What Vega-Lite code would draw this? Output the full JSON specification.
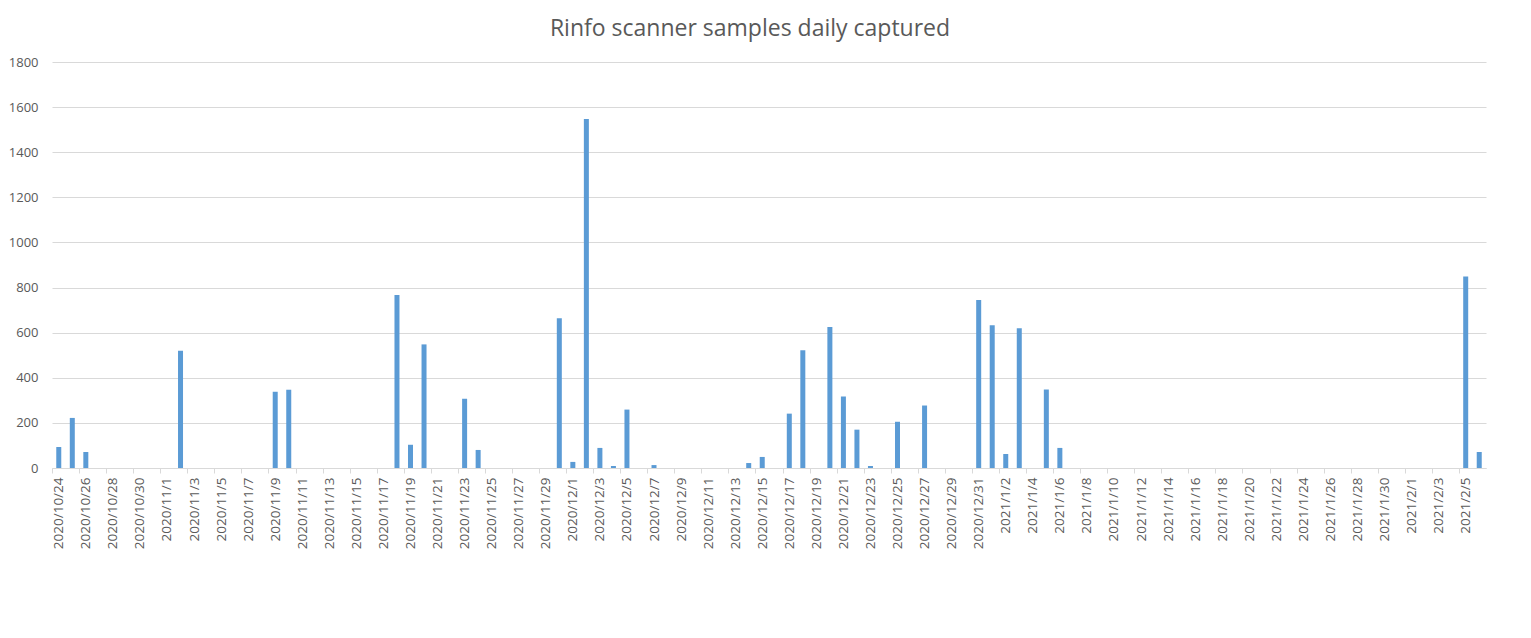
{
  "$schema": "https://vega.github.io/schema/vega-lite/v6.json",
  "autosize": {"type": "none"},
  "padding": {"left": 52, "top": 62, "right": 45, "bottom": 170},
  "width": 1434,
  "height": 406,
  "background": "#ffffff",
  "config": {
    "view": {"stroke": null},
    "font": "Open Sans"
  },
  "title": {
    "text": "Rinfo scanner samples daily captured",
    "font": "Open Sans",
    "fontSize": 23,
    "fontWeight": "normal",
    "color": "#595959",
    "anchor": "middle",
    "baseline": "alphabetic",
    "offset": -3,
    "dx": -19
  },
  "data": {
    "values": [
      {"date": "2020/10/24", "samples": 93},
      {"date": "2020/10/25", "samples": 222},
      {"date": "2020/10/26", "samples": 71},
      {"date": "2020/10/27", "samples": 0},
      {"date": "2020/10/28", "samples": 0},
      {"date": "2020/10/29", "samples": 0},
      {"date": "2020/10/30", "samples": 0},
      {"date": "2020/10/31", "samples": 0},
      {"date": "2020/11/1", "samples": 0},
      {"date": "2020/11/2", "samples": 520},
      {"date": "2020/11/3", "samples": 0},
      {"date": "2020/11/4", "samples": 0},
      {"date": "2020/11/5", "samples": 0},
      {"date": "2020/11/6", "samples": 0},
      {"date": "2020/11/7", "samples": 0},
      {"date": "2020/11/8", "samples": 0},
      {"date": "2020/11/9", "samples": 338},
      {"date": "2020/11/10", "samples": 347},
      {"date": "2020/11/11", "samples": 0},
      {"date": "2020/11/12", "samples": 0},
      {"date": "2020/11/13", "samples": 0},
      {"date": "2020/11/14", "samples": 0},
      {"date": "2020/11/15", "samples": 0},
      {"date": "2020/11/16", "samples": 0},
      {"date": "2020/11/17", "samples": 0},
      {"date": "2020/11/18", "samples": 767},
      {"date": "2020/11/19", "samples": 103},
      {"date": "2020/11/20", "samples": 548},
      {"date": "2020/11/21", "samples": 0},
      {"date": "2020/11/22", "samples": 0},
      {"date": "2020/11/23", "samples": 307},
      {"date": "2020/11/24", "samples": 80},
      {"date": "2020/11/25", "samples": 0},
      {"date": "2020/11/26", "samples": 0},
      {"date": "2020/11/27", "samples": 0},
      {"date": "2020/11/28", "samples": 0},
      {"date": "2020/11/29", "samples": 0},
      {"date": "2020/11/30", "samples": 664},
      {"date": "2020/12/1", "samples": 27},
      {"date": "2020/12/2", "samples": 1547},
      {"date": "2020/12/3", "samples": 89},
      {"date": "2020/12/4", "samples": 9},
      {"date": "2020/12/5", "samples": 259},
      {"date": "2020/12/6", "samples": 0},
      {"date": "2020/12/7", "samples": 13},
      {"date": "2020/12/8", "samples": 0},
      {"date": "2020/12/9", "samples": 0},
      {"date": "2020/12/10", "samples": 0},
      {"date": "2020/12/11", "samples": 0},
      {"date": "2020/12/12", "samples": 0},
      {"date": "2020/12/13", "samples": 0},
      {"date": "2020/12/14", "samples": 22},
      {"date": "2020/12/15", "samples": 49},
      {"date": "2020/12/16", "samples": 0},
      {"date": "2020/12/17", "samples": 241},
      {"date": "2020/12/18", "samples": 522},
      {"date": "2020/12/19", "samples": 0},
      {"date": "2020/12/20", "samples": 625},
      {"date": "2020/12/21", "samples": 317},
      {"date": "2020/12/22", "samples": 170},
      {"date": "2020/12/23", "samples": 9},
      {"date": "2020/12/24", "samples": 0},
      {"date": "2020/12/25", "samples": 205},
      {"date": "2020/12/26", "samples": 0},
      {"date": "2020/12/27", "samples": 277},
      {"date": "2020/12/28", "samples": 0},
      {"date": "2020/12/29", "samples": 0},
      {"date": "2020/12/30", "samples": 0},
      {"date": "2020/12/31", "samples": 745},
      {"date": "2021/1/1", "samples": 633},
      {"date": "2021/1/2", "samples": 62},
      {"date": "2021/1/3", "samples": 620},
      {"date": "2021/1/4", "samples": 0},
      {"date": "2021/1/5", "samples": 348},
      {"date": "2021/1/6", "samples": 89},
      {"date": "2021/1/7", "samples": 0},
      {"date": "2021/1/8", "samples": 0},
      {"date": "2021/1/9", "samples": 0},
      {"date": "2021/1/10", "samples": 0},
      {"date": "2021/1/11", "samples": 0},
      {"date": "2021/1/12", "samples": 0},
      {"date": "2021/1/13", "samples": 0},
      {"date": "2021/1/14", "samples": 0},
      {"date": "2021/1/15", "samples": 0},
      {"date": "2021/1/16", "samples": 0},
      {"date": "2021/1/17", "samples": 0},
      {"date": "2021/1/18", "samples": 0},
      {"date": "2021/1/19", "samples": 0},
      {"date": "2021/1/20", "samples": 0},
      {"date": "2021/1/21", "samples": 0},
      {"date": "2021/1/22", "samples": 0},
      {"date": "2021/1/23", "samples": 0},
      {"date": "2021/1/24", "samples": 0},
      {"date": "2021/1/25", "samples": 0},
      {"date": "2021/1/26", "samples": 0},
      {"date": "2021/1/27", "samples": 0},
      {"date": "2021/1/28", "samples": 0},
      {"date": "2021/1/29", "samples": 0},
      {"date": "2021/1/30", "samples": 0},
      {"date": "2021/1/31", "samples": 0},
      {"date": "2021/2/1", "samples": 0},
      {"date": "2021/2/2", "samples": 0},
      {"date": "2021/2/3", "samples": 0},
      {"date": "2021/2/4", "samples": 0},
      {"date": "2021/2/5", "samples": 849},
      {"date": "2021/2/6", "samples": 71}
    ]
  },
  "mark": {"type": "bar", "color": "#5b9bd5"},
  "encoding": {
    "x": {
      "field": "date",
      "type": "ordinal",
      "sort": null,
      "title": null,
      "scale": {"paddingInner": 0.63, "paddingOuter": 0.315},
      "axis": {
        "values": [
          "2020/10/24", "2020/10/26", "2020/10/28", "2020/10/30", "2020/11/1",
          "2020/11/3", "2020/11/5", "2020/11/7", "2020/11/9", "2020/11/11",
          "2020/11/13", "2020/11/15", "2020/11/17", "2020/11/19", "2020/11/21",
          "2020/11/23", "2020/11/25", "2020/11/27", "2020/11/29", "2020/12/1",
          "2020/12/3", "2020/12/5", "2020/12/7", "2020/12/9", "2020/12/11",
          "2020/12/13", "2020/12/15", "2020/12/17", "2020/12/19", "2020/12/21",
          "2020/12/23", "2020/12/25", "2020/12/27", "2020/12/29", "2020/12/31",
          "2021/1/2", "2021/1/4", "2021/1/6", "2021/1/8", "2021/1/10",
          "2021/1/12", "2021/1/14", "2021/1/16", "2021/1/18", "2021/1/20",
          "2021/1/22", "2021/1/24", "2021/1/26", "2021/1/28", "2021/1/30",
          "2021/2/1", "2021/2/3", "2021/2/5"
        ],
        "labelAngle": 270,
        "labelFontSize": 13.5,
        "labelColor": "#595959",
        "labelPadding": 4,
        "domainColor": "#d9d9d9",
        "tickColor": "#d9d9d9",
        "tickSize": 5,
        "tickOffset": -6.76,
        "labelOffset": 6.76,
        "grid": false
      }
    },
    "y": {
      "field": "samples",
      "type": "quantitative",
      "title": null,
      "scale": {"domain": [0, 1800]},
      "axis": {
        "values": [0, 200, 400, 600, 800, 1000, 1200, 1400, 1600, 1800],
        "format": "d",
        "domain": false,
        "ticks": false,
        "labelFontSize": 13,
        "labelColor": "#595959",
        "labelPadding": 14,
        "gridColor": "#d9d9d9",
        "gridWidth": 1
      }
    }
  }
}
